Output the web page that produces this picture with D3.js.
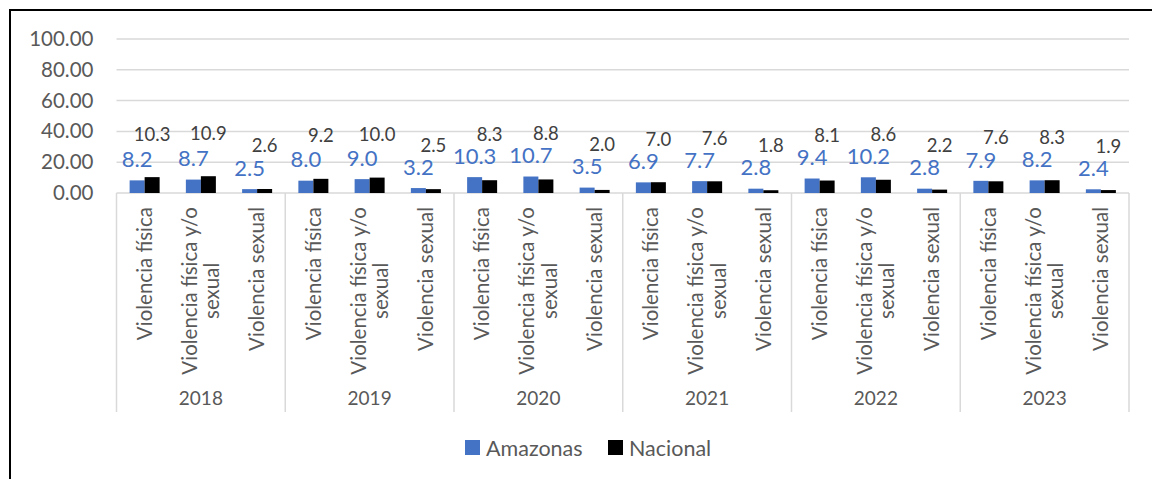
<!DOCTYPE html>
<html>
<head>
<meta charset="utf-8">
<script src="https://cdn.jsdelivr.net/npm/d3@7"></script>
<style>
  body { margin: 0; background: #fff; }
  text { font-family: Lato, "Noto Sans", sans-serif; }
</style>
</head>
<body>
<div class="chart"></div>
<script>
var years = ['2018', '2019', '2020', '2021', '2022', '2023'];
var categories = ['Violencia física', 'Violencia física y/o sexual', 'Violencia sexual'];
var seriesNames = ['Amazonas', 'Nacional'];
var amazonas = [
  [8.2, 8.7, 2.5],
  [8.0, 9.0, 3.2],
  [10.3, 10.7, 3.5],
  [6.9, 7.7, 2.8],
  [9.4, 10.2, 2.8],
  [7.9, 8.2, 2.4]
];
var nacional = [
  [10.3, 10.9, 2.6],
  [9.2, 10.0, 2.5],
  [8.3, 8.8, 2.0],
  [7.0, 7.6, 1.8],
  [8.1, 8.6, 2.2],
  [7.6, 8.3, 1.9]
];
var yTicks = [0, 20, 40, 60, 80, 100];
var colors = ['#4472C4', '#000000'];

var W = 1152, H = 479;
var margin = { top: 39, right: 23, bottom: 286, left: 116.5 };
var width = W - margin.left - margin.right;
var height = H - margin.top - margin.bottom;
var grey = '#595959';

var svg = d3.select('.chart')
  .append('svg')
    .attr('width', W)
    .attr('height', H);

// outer frame (right/bottom edges fall outside the picture)
svg.append('rect')
  .attr('x', 10).attr('y', 10)
  .attr('width', W + 20).attr('height', H + 20)
  .attr('fill', 'none')
  .attr('stroke', '#000')
  .attr('stroke-width', 2);

var g = svg.append('g')
  .attr('transform', 'translate(' + margin.left + ', ' + margin.top + ')');

var yScale = d3.scaleLinear().domain([0, 100]).range([height, 0]);
var x0 = d3.scaleBand().domain(years).range([0, width]);
var x1 = d3.scaleBand().domain(d3.range(categories.length)).range([0, x0.bandwidth()]);
var barW = 15;
var xs = d3.scaleBand().domain(seriesNames).range([-barW, barW]);

// gridlines
g.selectAll('.grid')
  .data(yTicks)
  .enter()
  .append('line')
    .attr('x1', 0).attr('x2', width)
    .attr('y1', d => yScale(d)).attr('y2', d => yScale(d))
    .attr('stroke', '#D9D9D9')
    .attr('stroke-width', 1.5);

// y axis labels
var yAxis = d3.axisLeft(yScale).tickValues(yTicks).tickFormat(d3.format('.2f')).tickSize(0).tickPadding(23);
var ya = g.append('g').call(yAxis);
ya.select('.domain').remove();
ya.selectAll('text')
  .attr('fill', grey)
  .style('font-size', '20.5px')
  .style('font-family', 'Lato, sans-serif');

// category separators
g.selectAll('.sep')
  .data(d3.range(years.length + 1))
  .enter()
  .append('line')
    .attr('x1', d => d * x0.bandwidth()).attr('x2', d => d * x0.bandwidth())
    .attr('y1', height).attr('y2', height + 219)
    .attr('stroke', '#D9D9D9')
    .attr('stroke-width', 1.5);

var groups = g.selectAll('.year')
  .data(years)
  .enter()
  .append('g')
    .attr('class', 'year')
    .attr('transform', d => 'translate(' + x0(d) + ',0)');

groups.each(function(yr, yi) {
  var grp = d3.select(this);
  categories.forEach(function(cat, ci) {
    var cx = x1(ci) + x1.bandwidth() / 2;
    var vals = [amazonas[yi][ci], nacional[yi][ci]];
    vals.forEach(function(v, si) {
      grp.append('rect')
        .attr('x', cx + xs(seriesNames[si]))
        .attr('y', yScale(v))
        .attr('width', barW)
        .attr('height', height - yScale(v))
        .attr('fill', colors[si]);
    });
    var maxTop = yScale(d3.max(vals));
    // Amazonas label
    grp.append('text')
      .attr('x', cx + xs('Amazonas') + barW / 2)
      .attr('y', yScale(vals[0]) - 21)
      .attr('dy', '0.35em')
      .attr('text-anchor', 'middle')
      .attr('fill', colors[0])
      .style('font-size', '22px')
      .text(d3.format('.1f')(vals[0]));
    // Nacional label
    grp.append('text')
      .attr('x', cx + xs('Nacional') + barW / 2)
      .attr('y', maxTop - 43)
      .attr('dy', '0.35em')
      .attr('text-anchor', 'middle')
      .attr('fill', '#404040')
      .style('font-size', '18.5px')
      .text(d3.format('.1f')(vals[1]));

    // rotated category label
    var lines = cat === 'Violencia física y/o sexual' ? ['Violencia física y/o', 'sexual'] : [cat];
    var lg = grp.append('g')
      .attr('transform', 'translate(' + cx + ',' + (height + 14) + ') rotate(-90)');
    var txt = lg.selectAll('text')
      .data(lines)
      .enter()
      .append('text')
        .attr('text-anchor', 'middle')
        .attr('y', (d, i) => (i - (lines.length - 1) / 2) * 22.5)
        .attr('dy', '0.35em')
        .attr('fill', grey)
        .style('font-size', '20.5px')
        .text(d => d);
    var maxLen = d3.max(txt.nodes(), n => n.getComputedTextLength());
    txt.attr('x', -maxLen / 2);
  });
  grp.append('text')
    .attr('x', x0.bandwidth() / 2)
    .attr('y', height + 205)
    .attr('dy', '0.35em')
    .attr('text-anchor', 'middle')
    .attr('fill', grey)
    .style('font-size', '19px')
    .text(yr);
});

// legend
var legend = svg.append('g').attr('transform', 'translate(465, 448)');
var legX = [0, 143];
seriesNames.forEach(function(s, i) {
  legend.append('rect')
    .attr('x', legX[i]).attr('y', -8)
    .attr('width', 15).attr('height', 15)
    .attr('fill', colors[i]);
  legend.append('text')
    .attr('x', legX[i] + 21)
    .attr('y', 0)
    .attr('dy', '0.35em')
    .attr('fill', grey)
    .style('font-size', '21.5px')
    .text(s);
});
</script>
</body>
</html>
